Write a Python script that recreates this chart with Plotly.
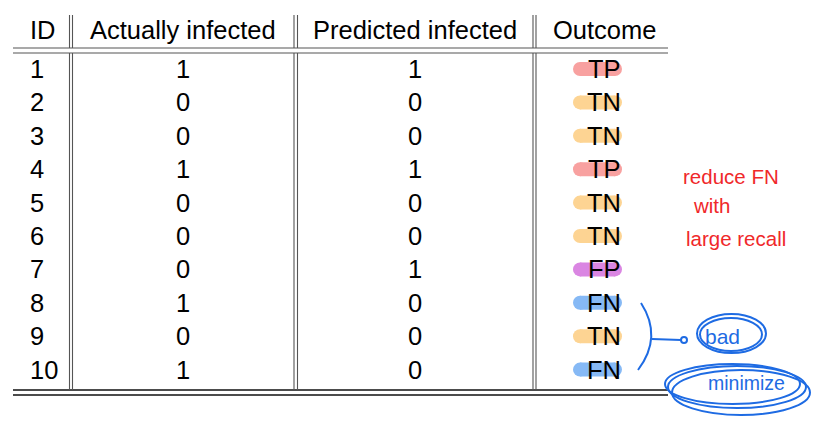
import plotly.graph_objects as go

# table data
headers = ["ID", "Actually infected", "Predicted infected", "Outcome"]
ids = [1, 2, 3, 4, 5, 6, 7, 8, 9, 10]
actual = [1, 0, 0, 1, 0, 0, 0, 1, 0, 1]
predicted = [1, 0, 0, 1, 0, 0, 1, 0, 0, 0]
outcome = ["TP", "TN", "TN", "TP", "TN", "TN", "FP", "FN", "TN", "FN"]

# handwritten notes
red_notes = ["reduce FN", "with", "large recall"]
blue_notes = ["bad", "minimize"]

# styles
outcome_colors = {"TP": "#f8a1a0", "TN": "#fdd493", "FP": "#da86e2", "FN": "#86b9f5"}
FONT = "Liberation Sans"
FS = 25.5
RED = "#f0282a"
BLUE = "#1e6be3"
W, H = 823, 422

col_x = [28, 183, 415, 604]   # pixel x of each column
fig = go.Figure()

# highlighter strokes behind the outcome labels
for oc, colr in outcome_colors.items():
    xs, ys = [], []
    for i, o in zip(ids, outcome):
        if o == oc:
            xs += [580, 615, None]
            ys += [i, i, None]
    fig.add_trace(go.Scatter(x=xs, y=ys, mode="lines+markers",
                             line=dict(color=colr, width=14),
                             marker=dict(size=14, color=colr),
                             hoverinfo="skip", showlegend=False))

# cell text
ann = []
for i, a, p, o in zip(ids, actual, predicted, outcome):
    ann.append(dict(x=col_x[0], y=i, text=str(i), xanchor="left"))
    ann.append(dict(x=col_x[1], y=i, text=str(a), xanchor="center"))
    ann.append(dict(x=col_x[2], y=i, text=str(p), xanchor="center"))
    ann.append(dict(x=col_x[3], y=i, text=o, xanchor="center"))
for a in ann:
    a.update(xref="x", yref="y", yanchor="middle", showarrow=False,
             font=dict(family=FONT, size=FS, color="black"))

# header
for k, h in enumerate(headers):
    ann.append(dict(x=col_x[k], y=30, xref="x", yref="y2", text=h,
                    xanchor="left" if k == 0 else "center", yanchor="middle",
                    showarrow=False, font=dict(family=FONT, size=FS, color="black")))

# red note
for t, (x, y) in zip(red_notes, [(681, 176), (691, 205), (684, 238)]):
    ann.append(dict(x=x, y=y, xref="x", yref="y2", text=t, xanchor="left",
                    yanchor="middle", showarrow=False,
                    font=dict(family=FONT, size=20.5, color=RED)))
# blue notes
for t, (x, y), s in zip(blue_notes, [(703, 336), (706, 383)], [21, 19.5]):
    ann.append(dict(x=x, y=y, xref="x", yref="y2", text=t, xanchor="left",
                    yanchor="middle", showarrow=False,
                    font=dict(family=FONT, size=s, color=BLUE)))

# rules
shapes = []
rule = dict(type="line", xref="x", yref="y2")
for y in [48, 53]:
    shapes.append(dict(rule, x0=13, x1=668, y0=y, y1=y, line=dict(color="#555", width=1.2)))
for y in [390, 395]:
    shapes.append(dict(rule, x0=13, x1=668, y0=y, y1=y, line=dict(color="#111", width=1.3)))
for x in [69.5, 72.5, 294, 297.5, 533, 536]:
    for y0, y1 in [(15, 48), (53, 390)]:
        shapes.append(dict(rule, x0=x, x1=x, y0=y0, y1=y1, line=dict(color="#555", width=1.1)))

# blue scribbles
pen = dict(xref="x", yref="y2", line=dict(color=BLUE, width=2))
shapes.append(dict(pen, type="path", path="M 641 303 Q 663 337 638 370"))
shapes.append(dict(pen, type="line", x0=652, x1=681, y0=339, y1=340))
shapes.append(dict(pen, type="circle", x0=681, x1=687, y0=337, y1=343))
shapes.append(dict(pen, type="circle", x0=697, x1=766, y0=314, y1=353))
shapes.append(dict(pen, type="circle", x0=700, x1=762, y0=318, y1=351))
shapes.append(dict(pen, type="circle", x0=668, x1=806, y0=366, y1=408))
shapes.append(dict(pen, type="circle", x0=672, x1=810, y0=370, y1=415))
shapes.append(dict(pen, type="circle", x0=665, x1=800, y0=364, y1=404))

fig.update_layout(
    width=W, height=H, margin=dict(l=0, r=0, t=0, b=0),
    plot_bgcolor="white", paper_bgcolor="white",
    xaxis=dict(range=[0, W], visible=False, fixedrange=True),
    yaxis=dict(range=[1 + (H - 69) / 33.4, 1 - 69 / 33.4], visible=False, fixedrange=True),
    yaxis2=dict(range=[H, 0], overlaying="y", visible=False, fixedrange=True),
    annotations=ann, shapes=shapes, showlegend=False,
)
fig.write_html("out.html", config={"displayModeBar": False},
               post_script="document.body.style.margin='0';")
